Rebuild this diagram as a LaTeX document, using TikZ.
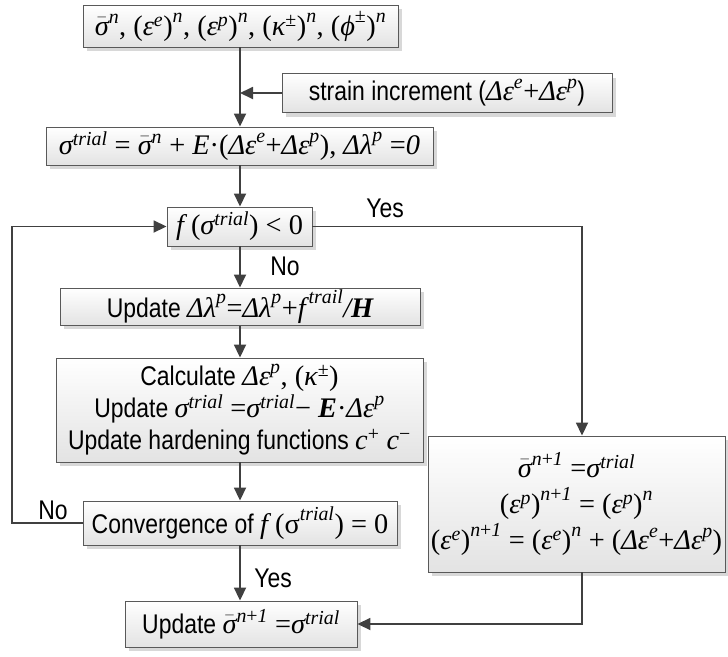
\documentclass[tikz,border=0pt]{standalone}
\usepackage{fontspec}
\usepackage{amsmath}
\setmainfont{Liberation Sans}[FakeStretch=0.85]
\newfontfamily\tmr{Liberation Serif}[Scale=1.05]
\usetikzlibrary{arrows.meta,shadows,calc}
\newcommand\ti[1]{\text{\tmr\itshape #1}}
\newcommand\tu[1]{\text{\tmr #1}}
\newcommand\tb[1]{\text{\tmr\bfseries\itshape #1}}
\newcommand\sbar{\bar{\ti{σ}}}
\newcommand\npo{\ti{n}\tu{+}\ti{1}}
\tikzset{
  box/.style={draw=black!65, line width=0.9pt, top color=white, bottom color=black!11,
    drop shadow={shadow xshift=4pt, shadow yshift=-4pt, fill=black!22, opacity=0.7},
    inner sep=2pt, align=center, font=\fontsize{27}{32}\selectfont},
  arr/.style={draw=black!75, line width=1.8pt, -{Triangle[length=13pt,width=12pt]}},
  lbl/.style={font=\fontsize{27}{30}\selectfont, inner sep=0pt}
}
\begin{document}
\begin{tikzpicture}[x=1pt,y=-1pt]
\useasboundingbox (0,0) rectangle (728,656);
\coordinate (mx) at (240,0);
\coordinate (rx) at (582,0);
\coordinate (lx) at (12,0);

\node[box, minimum width=315pt, minimum height=42pt] (b1) at (240.5,26)
  {$\sbar^{\ti{n}}\tu{, (}\ti{ε}^{\ti{e}}\tu{)}^{\ti{n}}\tu{, (}\ti{ε}^{\ti{p}}\tu{)}^{\ti{n}}\tu{, (}\ti{κ}^{\tu{±}}\tu{)}^{\ti{n}}\tu{, (}\ti{ϕ}^{\tu{±}}\tu{)}^{\ti{n}}$};
\node[box, minimum width=330pt, minimum height=39pt] (si) at (447,93)
  {strain increment ($\ti{Δε}^{\ti{e}}\tu{+}\ti{Δε}^{\ti{p}}$)};
\node[box, minimum width=387pt, minimum height=38pt] (b3) at (239.5,146)
  {$\ti{σ}^{\ti{trial}}\tu{ = }\sbar^{\ti{n}}\tu{ + }\ti{E}\tu{·(}\ti{Δε}^{\ti{e}}\tu{+}\ti{Δε}^{\ti{p}}\tu{), }\ti{Δλ}^{\ti{p}}\tu{ =}\ti{0}$};
\node[box, minimum width=145pt, minimum height=39pt] (fb) at (239.5,226.5)
  {$\ti{f}\tu{ (}\ti{σ}^{\ti{trial}}\tu{) < 0}$};
\node[box, minimum width=360pt, minimum height=37pt] (up) at (240,306.5)
  {Update $\ti{Δλ}^{\ti{p}}\tu{=}\ti{Δλ}^{\ti{p}}\tu{+}\ti{f}^{\,\ti{trail}}\ti{/}\tb{H}$};
\node[box, minimum width=367pt, minimum height=104pt] (ca) at (239.5,410)
  {Calculate $\ti{Δε}^{\ti{p}}\tu{, (}\ti{κ}^{\tu{±}}\tu{)}$\\
   Update $\ti{σ}^{\ti{trial}}\tu{ =}\ti{σ}^{\ti{trial}}\tu{− }\tb{E}\tu{·}\ti{Δε}^{\ti{p}}$\\
   Update hardening functions $\ti{c}^{\tu{+}}\tu{ }\ti{c}^{\tu{−}}$};
\node[box, minimum width=314pt, minimum height=44pt] (cv) at (240,523)
  {Convergence of $\ti{f}\tu{ (σ}^{\ti{trial}}\tu{) = 0}$};
\node[box, minimum width=232pt, minimum height=46pt] (fn) at (241,624)
  {Update $\sbar^{\npo}\tu{ =}\ti{σ}^{\ti{trial}}$};
\node[box, minimum width=297pt, minimum height=136pt, font=\fontsize{27}{36}\selectfont] (rb) at (576.5,504)
  {$\sbar^{\npo}\tu{ =}\ti{σ}^{\ti{trial}}$\\
   $\tu{(}\ti{ε}^{\ti{p}}\tu{)}^{\npo}\tu{ = (}\ti{ε}^{\ti{p}}\tu{)}^{\ti{n}}$\\
   $\tu{(}\ti{ε}^{\ti{e}}\tu{)}^{\npo}\tu{ = (}\ti{ε}^{\ti{e}}\tu{)}^{\ti{n}}\tu{ + (}\ti{Δε}^{\ti{e}}\tu{+}\ti{Δε}^{\ti{p}}\tu{)}$};

\draw[arr] (b1.south -| mx) -- (b3.north -| mx);
\draw[arr] (si.west) -- (si.west -| mx);
\draw[arr] (b3.south -| mx) -- (fb.north -| mx);
\draw[arr] (fb.south -| mx) -- (up.north -| mx);
\draw[arr] (up.south -| mx) -- (ca.north -| mx);
\draw[arr] (ca.south -| mx) -- (cv.north -| mx);
\draw[arr] (cv.south -| mx) -- (fn.north -| mx);
\draw[arr] (fb.east) -| (rb.north -| rx);
\draw[arr] (rb.south -| rx) |- (fn.east);
\draw[arr] (cv.west) -- (cv.west -| lx) -- (fb.west -| lx) -- (fb.west);

\node[lbl] (yes1) at (385,208) {Yes};
\node[lbl] (no1) at (285,266) {No};
\node[lbl] (no2) at (53,510) {No};
\node[lbl] (yes2) at (273,578) {Yes};
\end{tikzpicture}
\end{document}
